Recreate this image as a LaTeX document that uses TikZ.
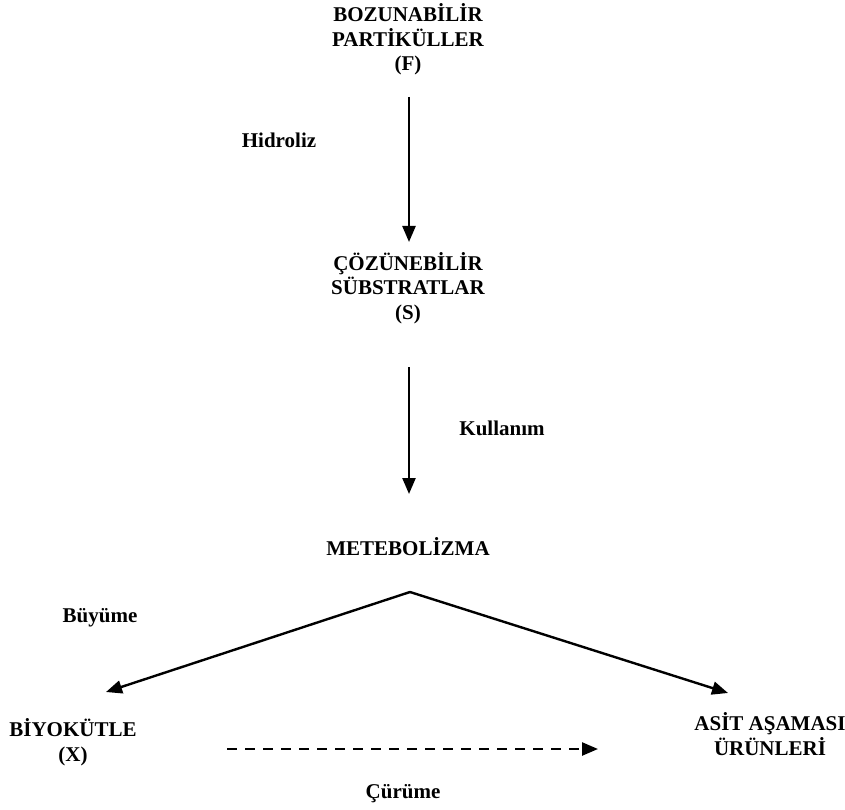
\documentclass[tikz,border=0pt]{standalone}
\usepackage{fontspec}
\setmainfont{Liberation Serif}
\usetikzlibrary{arrows.meta}
\tikzset{
  lbl/.style={inner sep=0pt, anchor=base, align=center, font=\fontsize{21}{24.5}\selectfont\bfseries},
  arr/.style={line width=2.4pt, -{Triangle[length=16pt,width=13pt]}},
  darr/.style={line width=2.4pt, dash pattern=on 10pt off 8pt, -{Triangle[length=16pt,width=13pt]}}
}
\begin{document}
\begin{tikzpicture}[x=1pt,y=-1pt]
\useasboundingbox (0,0) rectangle (845,810);
\node[lbl] (F) at (408,71) {BOZUNABİLİR\\PARTİKÜLLER\\(F)};
\node[lbl] (S) at (408,319) {ÇÖZÜNEBİLİR\\SÜBSTRATLAR\\(S)};
\node[lbl] (M) at (408,555) {METEBOLİZMA};
\node[lbl] (X) at (73,761) {BİYOKÜTLE\\(X)};
\node[lbl] (A) at (770,755) {ASİT AŞAMASI\\ÜRÜNLERİ};
\node[lbl] (hid) at (279,148) {Hidroliz};
\node[lbl] (kul) at (502,435) {Kullanım};
\node[lbl] (buy) at (100,622) {Büyüme};
\node[lbl] (cur) at (403,798) {Çürüme};
\coordinate (Fout) at (409,97);
\coordinate (Sin) at (409,242);
\coordinate (Sout) at (409,367);
\coordinate (Min) at (409,494);
\coordinate (apex) at (410,592);
\coordinate (Xin) at (106,692);
\coordinate (Ain) at (728,693);
\coordinate (Xout) at (227,749);
\coordinate (Ain2) at (598,749);
\draw[arr] (Fout) -- (Sin);
\draw[arr] (Sout) -- (Min);
\draw[arr] (apex) -- (Xin);
\draw[arr] (apex) -- (Ain);
\draw[darr] (Xout) -- (Ain2);
\end{tikzpicture}
\end{document}
